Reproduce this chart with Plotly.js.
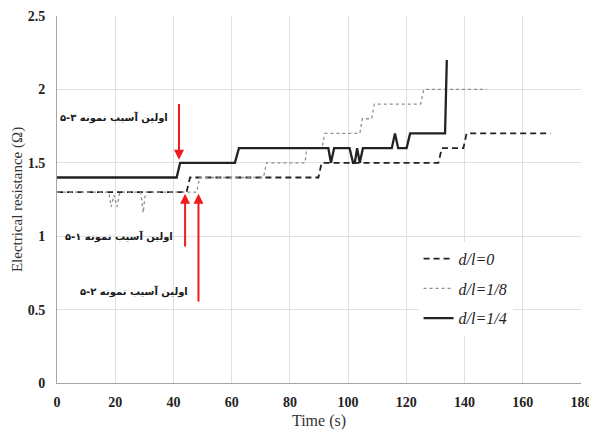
<!DOCTYPE html>
<html>
<head>
<meta charset="utf-8">
<script src="https://cdn.plot.ly/plotly-3.0.1.min.js"></script>
<style>
  html, body { margin: 0; padding: 0; background: #fff; }
  #chart { width: 589px; height: 432px; }
</style>
</head>
<body>
<div id="chart"></div>
<script>
// Electrical resistance vs. time for three d/l ratios
const seriesNames = ['d/l=0', 'd/l=1/8', 'd/l=1/4'];

// d/l = 0
const timeA = [0, 44.5, 45.7, 89.8, 90.9, 131, 132.2, 139.6, 140.7, 169.5];
const resA  = [1.3, 1.3, 1.4, 1.4, 1.5, 1.5, 1.6, 1.6, 1.7, 1.7];

// d/l = 1/8
const timeB = [0, 17.8, 18.6, 19.6, 20.6, 21.6, 28.8, 29.6, 30.4, 48.0, 49.0, 70.9, 72.0, 85.2, 85.8, 91.0, 92.0, 104.0, 104.9, 108.1, 109.0, 124.9, 126.0, 147.6];
const resB  = [1.3, 1.3, 1.2, 1.28, 1.2, 1.3, 1.3, 1.16, 1.3, 1.3, 1.4, 1.4, 1.5, 1.5, 1.6, 1.6, 1.7, 1.7, 1.8, 1.8, 1.9, 1.9, 2.0, 2.0];

// d/l = 1/4
const timeC = [0, 41.1, 42.3, 61.1, 62.5, 93.2, 94.1, 95.2, 100.5, 101.7, 102.3, 103.1, 104.0, 105.1, 115.0, 116.1, 117.2, 120.1, 121.3, 133.3, 133.9];
const resC  = [1.4, 1.4, 1.5, 1.5, 1.6, 1.6, 1.5, 1.6, 1.6, 1.5, 1.5, 1.6, 1.5, 1.6, 1.6, 1.7, 1.6, 1.6, 1.7, 1.7, 2.2];

// First-damage markers: arrow tip / tail (time, resistance) and caption
const damageLabels = ['اولین آسیب نمونه ۳-۵', 'اولین آسیب نمونه ۱-۵', 'اولین آسیب نمونه ۲-۵'];
const damageTime   = [41.9, 44.0, 48.6];
const damageTip    = [1.52, 1.29, 1.29];
const damageTail   = [1.91, 0.92, 0.545];
const labelTime    = [38.8, 40.6, 45.6];
const labelRes     = [1.81, 1.0, 0.62];

const serif = '"Liberation Serif", "Times New Roman", serif';

const traces = [
  { x: timeA, y: resA, name: seriesNames[0], legendgroup: 'a',
    line: { color: '#222', width: 1.8, dash: '6px,4px' } },
  { x: timeB, y: resB, name: seriesNames[1], legendgroup: 'b',
    line: { color: '#8f8f8f', width: 1.3, dash: 'dot' } },
  { x: timeC, y: resC, name: seriesNames[2], legendgroup: 'c',
    line: { color: '#222', width: 2.3 } }
].map(t => Object.assign({ type: 'scatter', mode: 'lines' }, t));

const annotations = [];
for (let i = 0; i < damageLabels.length; i++) {
  annotations.push({
    x: damageTime[i], y: damageTip[i], xref: 'x', yref: 'y',
    ax: damageTime[i], ay: damageTail[i], axref: 'x', ayref: 'y',
    showarrow: true, arrowhead: 2, arrowsize: 1, arrowwidth: 2,
    arrowcolor: '#ee1c1c', text: ''
  });
  annotations.push({
    x: labelTime[i], y: labelRes[i], xref: 'x', yref: 'y', xanchor: 'right',
    showarrow: false, text: damageLabels[i],
    font: { family: '"DejaVu Sans", sans-serif', size: 10, color: '#1a1a1a', weight: 'bold' }
  });
}

const layout = {
  width: 589, height: 432,
  margin: { l: 57, r: 8, t: 16, b: 49 },
  paper_bgcolor: '#fff', plot_bgcolor: '#fff',
  showlegend: true,
  legend: {
    x: 0.69, y: 0.385, xanchor: 'left', yanchor: 'top',
    bgcolor: '#fff', tracegroupgap: 6,
    font: { family: serif, size: 16, color: '#222', style: 'italic' }
  },
  xaxis: {
    range: [0, 180], dtick: 20, tick0: 0,
    showgrid: true, gridcolor: '#e0e0e0', gridwidth: 1,
    showline: true, linecolor: '#a6a6a6', linewidth: 1,
    zeroline: false, ticks: '', ticklabelstandoff: 6, ticklabeloverflow: 'allow',
    tickfont: { family: serif, size: 14, color: '#222', weight: 'bold' },
    title: { text: 'Time (s)', standoff: 6, font: { family: serif, size: 16, color: '#333' } }
  },
  yaxis: {
    range: [0, 2.5], dtick: 0.5, tick0: 0,
    showgrid: true, gridcolor: '#e0e0e0', gridwidth: 1,
    showline: true, linecolor: '#a6a6a6', linewidth: 1,
    zeroline: false, ticks: '', ticklabelstandoff: 8,
    tickfont: { family: serif, size: 14, color: '#222', weight: 'bold' },
    title: { text: 'Electrical resistance (Ω)', standoff: 1, font: { family: serif, size: 15, color: '#333' } }
  },
  annotations: annotations
};

Plotly.newPlot('chart', traces, layout, { displayModeBar: false, staticPlot: true });
</script>
</body>
</html>
